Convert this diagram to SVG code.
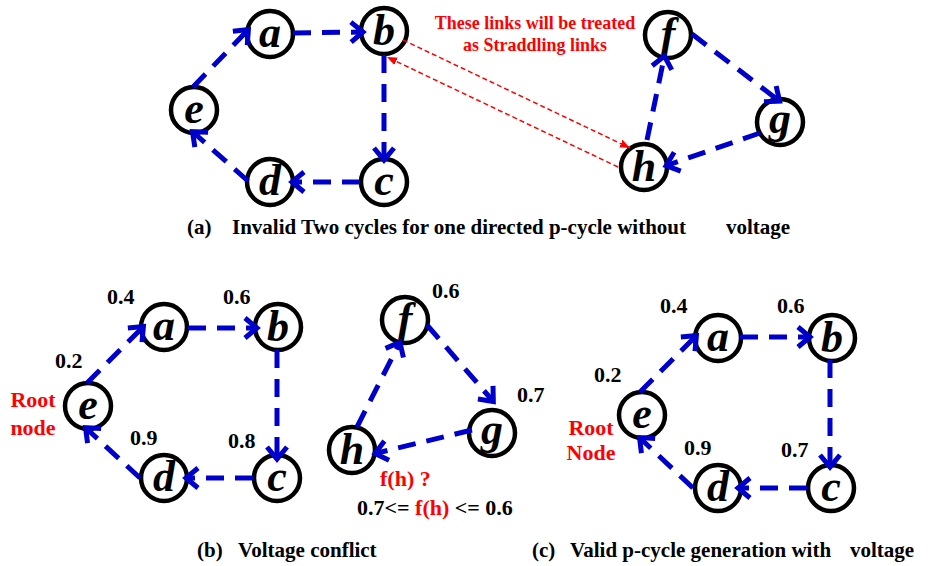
<svg xmlns="http://www.w3.org/2000/svg" width="928" height="566" viewBox="0 0 928 566">
<style>
.node circle{fill:#fff;stroke:#000;stroke-width:4.5}
.node text{font-family:"Liberation Serif",serif;font-weight:bold;font-style:italic;font-size:44px;text-anchor:middle;fill:#000}
.edge{stroke:#0000cc;stroke-width:5;fill:none;stroke-dasharray:18 11;marker-end:url(#chev)}
.red{stroke:#ff0000;stroke-width:1.5;fill:none;stroke-dasharray:5 3;marker-end:url(#tri)}
.lbl{font-family:"Liberation Serif",serif;font-weight:bold;font-size:22px;fill:#000}
.rlbl{font-family:"Liberation Serif",serif;font-weight:bold;font-size:22px;fill:#ff0000}
.note{font-family:"Liberation Serif",serif;font-weight:bold;font-size:18px;fill:#ff0000;text-anchor:middle}
.cap{font-family:"Liberation Serif",serif;font-weight:bold;font-size:21px;fill:#000}
</style>
<defs>
<marker id="chev" markerUnits="userSpaceOnUse" markerWidth="34" markerHeight="34" viewBox="-17 -17 34 34" refX="-2" refY="0" orient="auto">
<path d="M-12,-10 L0,0 L-12,10" fill="none" stroke="#0000cc" stroke-width="5" stroke-dasharray="none"/>
</marker>
<marker id="tri" markerUnits="userSpaceOnUse" markerWidth="20" markerHeight="20" viewBox="-10 -10 20 20" refX="0" refY="0" orient="auto">
<path d="M-11,-4.5 L0,0 L-11,4.5 z" fill="#ff0000" stroke="none"/>
</marker>
</defs>

<!-- nodes (a) -->
<g id="a1" class="node"><circle cx="270" cy="34" r="23"/><text x="270" y="47">a</text></g>
<g id="b1" class="node"><circle cx="384" cy="31" r="23"/><text x="384" y="45">b</text></g>
<g id="c1" class="node"><circle cx="384" cy="182" r="23"/><text x="384" y="195">c</text></g>
<g id="d1" class="node"><circle cx="270" cy="182" r="23"/><text x="270" y="195">d</text></g>
<g id="e1" class="node"><circle cx="194" cy="110" r="23"/><text x="194" y="123">e</text></g>
<g id="f1" class="node"><circle cx="668" cy="35" r="23"/><text x="668" y="48">f</text></g>
<g id="g1" class="node"><circle cx="780" cy="122" r="23"/><text x="780" y="133">g</text></g>
<g id="h1" class="node"><circle cx="644" cy="167" r="23"/><text x="644" y="181">h</text></g>

<!-- nodes (b) -->
<g id="a2" class="node"><circle cx="164" cy="327" r="23"/><text x="164" y="340">a</text></g>
<g id="b2" class="node"><circle cx="278" cy="327" r="23"/><text x="278" y="341">b</text></g>
<g id="c2" class="node"><circle cx="277" cy="478" r="23"/><text x="277" y="491">c</text></g>
<g id="d2" class="node"><circle cx="164" cy="478" r="23"/><text x="164" y="491">d</text></g>
<g id="e2" class="node"><circle cx="88" cy="406" r="23"/><text x="88" y="419">e</text></g>
<g id="f2" class="node"><circle cx="405" cy="320" r="23"/><text x="405" y="333">f</text></g>
<g id="g2" class="node"><circle cx="492" cy="433" r="23"/><text x="492" y="444">g</text></g>
<g id="h2" class="node"><circle cx="352" cy="450" r="23"/><text x="352" y="464">h</text></g>

<!-- nodes (c) -->
<g id="a3" class="node"><circle cx="718" cy="338" r="23"/><text x="718" y="351">a</text></g>
<g id="b3" class="node"><circle cx="832" cy="338" r="23"/><text x="832" y="352">b</text></g>
<g id="c3" class="node"><circle cx="831" cy="488" r="23"/><text x="831" y="501">c</text></g>
<g id="d3" class="node"><circle cx="718" cy="488" r="23"/><text x="718" y="501">d</text></g>
<g id="e3" class="node"><circle cx="642" cy="415" r="23"/><text x="642" y="428">e</text></g>

<g id="connectors">
<line class="edge" x1="293" y1="33" x2="361" y2="32"/>
<line class="edge" x1="384" y1="55" x2="384" y2="158"/>
<line class="edge" x1="360" y1="182" x2="294" y2="182"/>
<line class="edge" x1="248" y1="181" x2="194" y2="133"/>
<line class="edge" x1="193" y1="87" x2="247" y2="31"/>
<line class="edge" x1="692" y1="34" x2="778" y2="100"/>
<line class="edge" x1="760" y1="133" x2="668" y2="165"/>
<line class="edge" x1="647" y1="140" x2="664" y2="58"/>
<line class="red" x1="403" y1="40" x2="630" y2="148"/>
<line class="red" x1="618" y1="167" x2="387" y2="57"/>

<line class="edge" x1="87" y1="383" x2="142" y2="328"/>
<line class="edge" x1="188" y1="328" x2="255" y2="328"/>
<line class="edge" x1="277" y1="350" x2="277" y2="457"/>
<line class="edge" x1="253" y1="478" x2="188" y2="478"/>
<line class="edge" x1="140" y1="478" x2="87" y2="429"/>
<line class="edge" x1="427" y1="325" x2="492" y2="400"/>
<line class="edge" x1="472" y1="430" x2="377" y2="453"/>
<line class="edge" x1="357" y1="427" x2="399" y2="344"/>

<line class="edge" x1="640" y1="392" x2="695" y2="337"/>
<line class="edge" x1="740" y1="337" x2="808" y2="337"/>
<line class="edge" x1="830" y1="360" x2="830" y2="465"/>
<line class="edge" x1="807" y1="488" x2="740" y2="488"/>
<line class="edge" x1="693" y1="488" x2="641" y2="439"/>
</g>

<!-- texts (a) -->
<text class="note" x="535" y="29">These links will be treated</text>
<text class="note" x="535" y="51">as Straddling links</text>
<text class="cap" x="187" y="234">(a)</text>
<text class="cap" x="232" y="234">Invalid Two cycles for one directed p-cycle without</text>
<text class="cap" x="726" y="234">voltage</text>

<!-- texts (b) -->
<text class="lbl" x="107" y="304">0.4</text>
<text class="lbl" x="223" y="304">0.6</text>
<text class="lbl" x="55" y="368">0.2</text>
<text class="lbl" x="130" y="445">0.9</text>
<text class="lbl" x="228" y="448">0.8</text>
<text class="rlbl" x="33" y="407" text-anchor="middle">Root</text>
<text class="rlbl" x="33" y="435" text-anchor="middle">node</text>
<text class="lbl" x="432" y="298">0.6</text>
<text class="lbl" x="517" y="402">0.7</text>
<text class="rlbl" x="380" y="486">f(h) ?</text>
<text class="lbl" x="357" y="515" xml:space="preserve">0.7&lt;= <tspan fill="#ff0000">f(h)</tspan> &lt;= 0.6</text>
<text class="cap" x="197" y="557">(b)</text>
<text class="cap" x="238" y="557">Voltage conflict</text>

<!-- texts (c) -->
<text class="lbl" x="660" y="313">0.4</text>
<text class="lbl" x="777" y="313">0.6</text>
<text class="lbl" x="594" y="382">0.2</text>
<text class="lbl" x="684" y="455">0.9</text>
<text class="lbl" x="781" y="457">0.7</text>
<text class="rlbl" x="591" y="435" text-anchor="middle">Root</text>
<text class="rlbl" x="591" y="460" text-anchor="middle">Node</text>
<text class="cap" x="532" y="557">(c)</text>
<text class="cap" x="570" y="557">Valid p-cycle generation with</text>
<text class="cap" x="850" y="557">voltage</text>
</svg>
